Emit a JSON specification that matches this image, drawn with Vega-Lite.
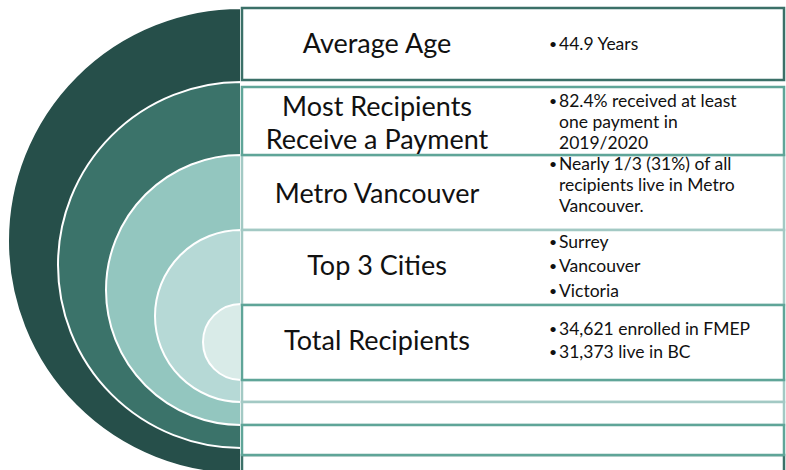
{
  "$schema": "https://vega.github.io/schema/vega-lite/v6.json",
  "width": 786,
  "height": 470,
  "padding": 0,
  "autosize": {"type": "none"},
  "background": "white",
  "config": {"view": {"stroke": null}, "axis": {"disable": true}},
  "layer": [
    {
      "data": {"values": [
        {"ring": "outer", "cx": 241, "cy": 241, "r": 233, "color": "#264f4a"},
        {"ring": "second", "cx": 241, "cy": 265, "r": 183, "color": "#3b736a"},
        {"ring": "third", "cx": 241, "cy": 290, "r": 135, "color": "#93c6bf"},
        {"ring": "fourth", "cx": 241, "cy": 316, "r": 86, "color": "#b6d9d6"},
        {"ring": "fifth", "cx": 241, "cy": 342, "r": 38, "color": "#d9ebe8"}
      ]},
      "mark": {"type": "arc", "theta": 3.14159, "theta2": 6.28319, "stroke": "white", "strokeWidth": 2},
      "encoding": {
        "x": {"field": "cx", "type": "quantitative", "scale": {"domain": [0, 786], "range": [0, 786], "nice": false, "zero": false}, "axis": null},
        "y": {"field": "cy", "type": "quantitative", "scale": {"domain": [0, 470], "range": [0, 470], "nice": false, "zero": false}, "axis": null},
        "radius": {"field": "r", "type": "quantitative", "stack": null, "scale": {"type": "linear", "domain": [0, 470], "range": [0, 470], "nice": false}},
        "fill": {"field": "color", "type": "nominal", "scale": null}
      }
    },
    {
      "data": {"values": [
        {"box": 9, "x0": 242, "x1": 784, "y0": 455, "y1": 476, "color": "#3b7068"},
        {"box": 1, "x0": 242, "x1": 784, "y0": 8, "y1": 80, "color": "#3b7068"},
        {"box": 3, "x0": 242, "x1": 784, "y0": 155, "y1": 230, "color": "#a3c9c4"},
        {"box": 4, "x0": 242, "x1": 784, "y0": 230, "y1": 305, "color": "#a3c9c4"},
        {"box": 6, "x0": 242, "x1": 784, "y0": 380, "y1": 402, "color": "#a3c9c4"},
        {"box": 7, "x0": 242, "x1": 784, "y0": 402, "y1": 425, "color": "#a3c9c4"},
        {"box": 2, "x0": 242, "x1": 784, "y0": 87, "y1": 155, "color": "#5fa598"},
        {"box": 5, "x0": 242, "x1": 784, "y0": 305, "y1": 380, "color": "#5fa598"},
        {"box": 8, "x0": 242, "x1": 784, "y0": 425, "y1": 455, "color": "#5fa598"}
      ]},
      "mark": {"type": "rect", "fill": "white", "strokeWidth": 2.5},
      "encoding": {
        "x": {"field": "x0", "type": "quantitative", "scale": {"domain": [0, 786], "range": [0, 786], "nice": false, "zero": false}},
        "x2": {"field": "x1"},
        "y": {"field": "y0", "type": "quantitative", "scale": {"domain": [0, 470], "range": [0, 470], "nice": false, "zero": false}},
        "y2": {"field": "y1"},
        "stroke": {"field": "color", "type": "nominal", "scale": null}
      }
    },
    {
      "data": {"values": [
        {"label": "Average Age", "px": 377, "py": 45},
        {"label": "Most Recipients", "px": 377, "py": 108},
        {"label": "Receive a Payment", "px": 377, "py": 141},
        {"label": "Metro Vancouver", "px": 377, "py": 195},
        {"label": "Top 3 Cities", "px": 377, "py": 267},
        {"label": "Total Recipients", "px": 377, "py": 342}
      ]},
      "mark": {"type": "text", "font": "Lato", "fontSize": 27, "align": "center", "baseline": "middle", "color": "#111111"},
      "encoding": {
        "x": {"field": "px", "type": "quantitative", "scale": {"domain": [0, 786], "range": [0, 786], "nice": false, "zero": false}},
        "y": {"field": "py", "type": "quantitative", "scale": {"domain": [0, 470], "range": [0, 470], "nice": false, "zero": false}},
        "text": {"field": "label"}
      }
    },
    {
      "data": {"values": [
        {"line": "44.9 Years", "px": 559, "py": 45, "bullet": true},
        {"line": "82.4% received at least", "px": 559, "py": 102, "bullet": true},
        {"line": "one payment in", "px": 559, "py": 123, "bullet": false},
        {"line": "2019/2020", "px": 559, "py": 144, "bullet": false},
        {"line": "Nearly 1/3 (31%) of all", "px": 559, "py": 165, "bullet": true},
        {"line": "recipients live in Metro", "px": 559, "py": 186, "bullet": false},
        {"line": "Vancouver.", "px": 559, "py": 207, "bullet": false},
        {"line": "Surrey", "px": 559, "py": 243, "bullet": true},
        {"line": "Vancouver", "px": 559, "py": 267, "bullet": true},
        {"line": "Victoria", "px": 559, "py": 292, "bullet": true},
        {"line": "34,621 enrolled in FMEP", "px": 559, "py": 330, "bullet": true},
        {"line": "31,373 live in BC", "px": 559, "py": 353, "bullet": true}
      ]},
      "layer": [
        {
          "mark": {"type": "text", "font": "Lato", "fontSize": 17.5, "align": "left", "baseline": "middle", "color": "#111111"},
          "encoding": {
            "x": {"field": "px", "type": "quantitative", "scale": {"domain": [0, 786], "range": [0, 786], "nice": false, "zero": false}},
            "y": {"field": "py", "type": "quantitative", "scale": {"domain": [0, 470], "range": [0, 470], "nice": false, "zero": false}},
            "text": {"field": "line"}
          }
        },
        {
          "transform": [{"filter": "datum.bullet"}],
          "mark": {"type": "text", "font": "Lato", "fontSize": 14, "align": "center", "baseline": "middle", "dx": -6, "color": "#111111", "text": "•"},
          "encoding": {
            "x": {"field": "px", "type": "quantitative", "scale": {"domain": [0, 786], "range": [0, 786], "nice": false, "zero": false}},
            "y": {"field": "py", "type": "quantitative", "scale": {"domain": [0, 470], "range": [0, 470], "nice": false, "zero": false}}
          }
        }
      ]
    }
  ]
}
